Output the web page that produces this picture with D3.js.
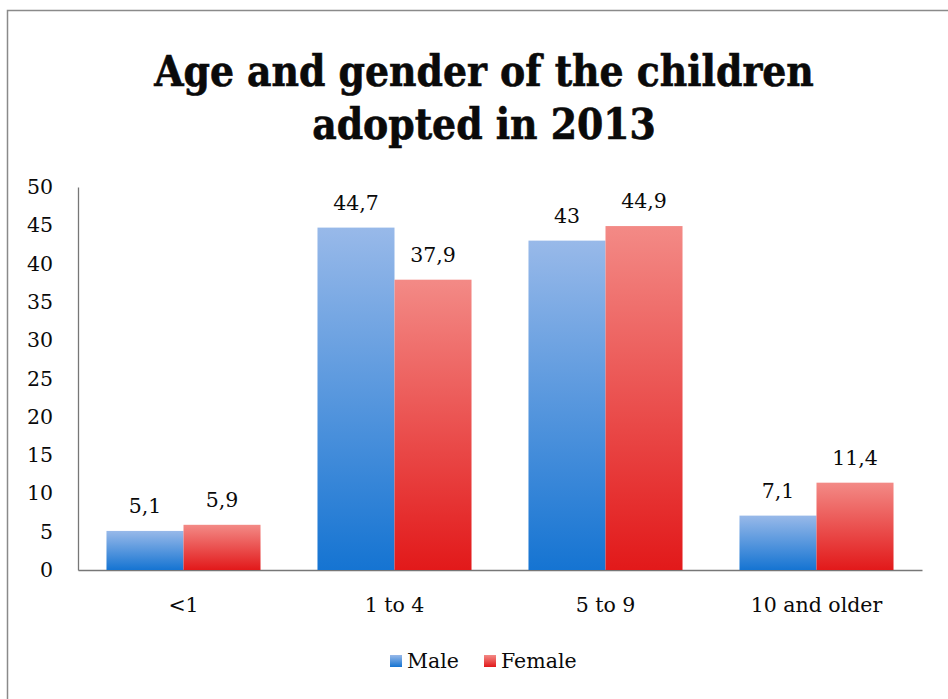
<!DOCTYPE html>
<html>
<head>
<meta charset="utf-8">
<script src="https://cdn.jsdelivr.net/npm/d3@7"></script>
<style>
  html, body { margin: 0; padding: 0; background: #fff; }
  svg text { font-family: 'DejaVu Serif', serif; fill: #0a0a0a; }
</style>
</head>
<body>
<svg id="chart" width="948" height="699"></svg>
<script>
// data
const categories = ['<1', '1 to 4', '5 to 9', '10 and older']
const series     = ['Male', 'Female']
const male       = [5.1, 44.7, 43, 7.1]
const female     = [5.9, 37.9, 44.9, 11.4]
const yTicks     = [0, 5, 10, 15, 20, 25, 30, 35, 40, 45, 50]
const titleLines = ['Age and gender of the children', 'adopted in 2013']

const svg = d3.select('#chart'),
      W   = 948,
      fs  = 20.5,
      m   = { l: 78, r: 26, t: 187, b: 129 } // plot box

// frame
svg.append('rect')
  .attr('x', 7.5).attr('y', 10.5)
  .attr('width', W + 10).attr('height', 699)
  .attr('fill', '#fff')
  .attr('stroke', '#8a8a8a')
  .attr('stroke-width', 1.5)

// gradients
const defs = svg.append('defs')
const grads = { Male: ['#98b9e9', '#1574d2'], Female: ['#f38a86', '#e2191a'] }
series.forEach(s => {
  let g = defs.append('linearGradient')
    .attr('id', 'g-' + s).attr('x1', 0).attr('y1', 0).attr('x2', 0).attr('y2', 1)
  g.append('stop').attr('offset', '0%').attr('stop-color', grads[s][0])
  g.append('stop').attr('offset', '100%').attr('stop-color', grads[s][1])
})

// title
svg.append('g').selectAll('text')
  .data(titleLines).join('text')
  .attr('x', 484)
  .attr('y', (d, i) => 86 + i * 53)
  .attr('text-anchor', 'middle')
  .attr('font-size', 42)
  .attr('font-weight', 'bold')
  .attr('stroke', '#0a0a0a')
  .attr('stroke-width', 0.6)
  .style('font-stretch', 'condensed')
  .text(d => d)

const x = d3.scaleBand()
  .domain(categories)
  .range([m.l, W - m.r])
  .paddingInner(0.27)
  .paddingOuter(0.135)

const xs = d3.scaleBand()
  .domain(series)
  .range([0, x.bandwidth()])

const y = d3.scaleLinear()
  .domain([0, 50])
  .range([699 - m.b, m.t])

// y axis
const ya = svg.append('g')
  .attr('transform', 'translate(' + m.l + ',0)')
  .call(d3.axisLeft(y).tickValues(yTicks).tickSize(0).tickPadding(25))
ya.select('.domain').attr('stroke', '#777').attr('stroke-width', 1.3)
ya.selectAll('text').attr('font-size', fs).style('font-family', "'DejaVu Serif', serif").attr('fill', '#0a0a0a')

// x axis
const xa = svg.append('g')
  .attr('transform', 'translate(0,' + y(0) + ')')
  .call(d3.axisBottom(x).tickSize(0).tickPadding(27))
xa.select('.domain').attr('stroke', '#777').attr('stroke-width', 1.3)
xa.selectAll('text').attr('font-size', fs).style('font-family', "'DejaVu Serif', serif").attr('fill', '#0a0a0a')

// bars
const rows = categories.map((c, i) => ({ c: c, vals: [
  { s: 'Male', v: male[i] }, { s: 'Female', v: female[i] } ] }))

const grp = svg.append('g').selectAll('g')
  .data(rows).join('g')
  .attr('transform', d => 'translate(' + x(d.c) + ',0)')

grp.selectAll('rect')
  .data(d => d.vals).join('rect')
  .attr('x', d => xs(d.s))
  .attr('y', d => y(d.v))
  .attr('width', xs.bandwidth())
  .attr('height', d => y(0) - y(d.v))
  .attr('fill', d => 'url(#g-' + d.s + ')')

grp.selectAll('text')
  .data(d => d.vals).join('text')
  .attr('x', d => xs(d.s) + xs.bandwidth() / 2)
  .attr('y', d => y(d.v) - 18)
  .attr('text-anchor', 'middle')
  .attr('font-size', fs)
  .text(d => String(d.v).replace('.', ','))

// legend
const lg = svg.append('g').attr('transform', 'translate(390,668)')
const items = lg.selectAll('g')
  .data(series).join('g')
  .attr('transform', (d, i) => 'translate(' + (i * 94) + ',0)')
items.append('rect')
  .attr('x', 0).attr('y', -13)
  .attr('width', 12).attr('height', 12)
  .attr('fill', d => 'url(#g-' + d + ')')
items.append('text')
  .attr('x', 17).attr('y', 0)
  .attr('font-size', fs)
  .text(d => d)
</script>
</body>
</html>
